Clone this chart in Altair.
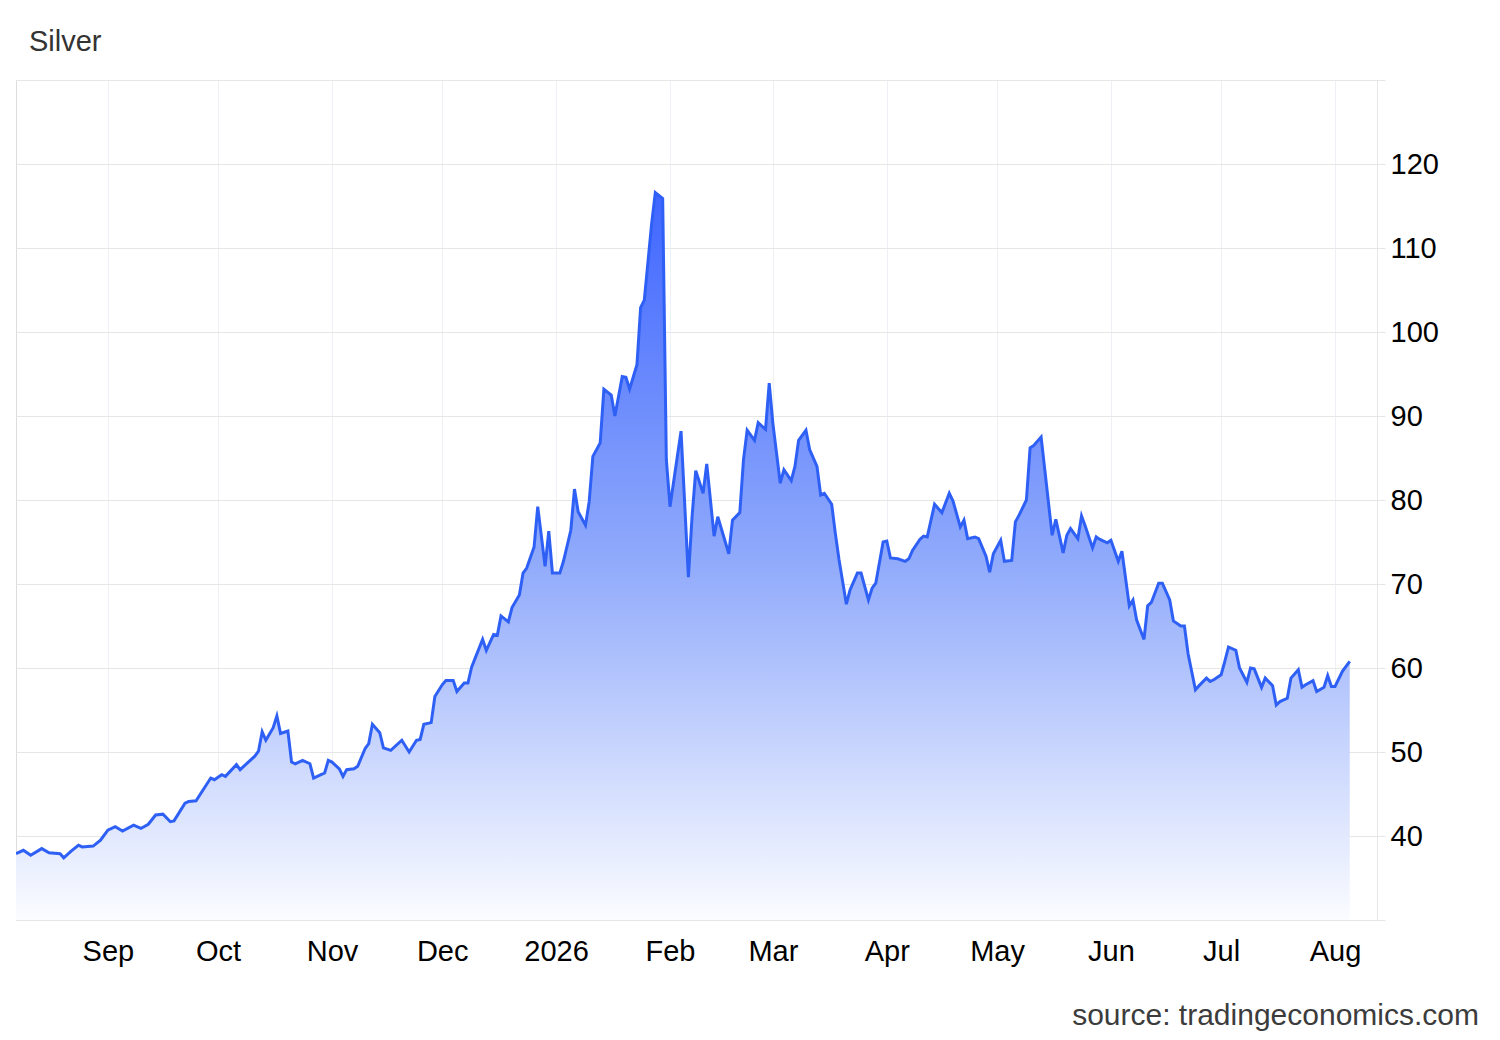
import altair as alt
import pandas as pd

# ---- data ----
dates = [
    "2025-08-07", "2025-08-09", "2025-08-11", "2025-08-14", "2025-08-16", "2025-08-19", "2025-08-20",
    "2025-08-22", "2025-08-24", "2025-08-25", "2025-08-28", "2025-08-30",
    "2025-09-01", "2025-09-03", "2025-09-05", "2025-09-08", "2025-09-10", "2025-09-12", "2025-09-14",
    "2025-09-16", "2025-09-18", "2025-09-19", "2025-09-22", "2025-09-23", "2025-09-25", "2025-09-29",
    "2025-09-30",
    "2025-10-02", "2025-10-03", "2025-10-06", "2025-10-07", "2025-10-09", "2025-10-11", "2025-10-12",
    "2025-10-13", "2025-10-14", "2025-10-16", "2025-10-17", "2025-10-18", "2025-10-20", "2025-10-21",
    "2025-10-22", "2025-10-24", "2025-10-26", "2025-10-27", "2025-10-29", "2025-10-30", "2025-10-31",
    "2025-11-01", "2025-11-03", "2025-11-04", "2025-11-05", "2025-11-07", "2025-11-08", "2025-11-10",
    "2025-11-11", "2025-11-12", "2025-11-14", "2025-11-15", "2025-11-17", "2025-11-20", "2025-11-22",
    "2025-11-24", "2025-11-25", "2025-11-26", "2025-11-28", "2025-11-29",
    "2025-12-01", "2025-12-02", "2025-12-04", "2025-12-05", "2025-12-07", "2025-12-08", "2025-12-09",
    "2025-12-10", "2025-12-12", "2025-12-13", "2025-12-15", "2025-12-16", "2025-12-17", "2025-12-19",
    "2025-12-20", "2025-12-22", "2025-12-23", "2025-12-24", "2025-12-26", "2025-12-27", "2025-12-29",
    "2025-12-30", "2025-12-31",
    "2026-01-02", "2026-01-03", "2026-01-05", "2026-01-06", "2026-01-07", "2026-01-09", "2026-01-10",
    "2026-01-11", "2026-01-13", "2026-01-14", "2026-01-16", "2026-01-17", "2026-01-19", "2026-01-20",
    "2026-01-21", "2026-01-23", "2026-01-24", "2026-01-25", "2026-01-27", "2026-01-28", "2026-01-30",
    "2026-01-31",
    "2026-02-01", "2026-02-03", "2026-02-04", "2026-02-06", "2026-02-07", "2026-02-08", "2026-02-10",
    "2026-02-11", "2026-02-13", "2026-02-14", "2026-02-17", "2026-02-18", "2026-02-20", "2026-02-21",
    "2026-02-22", "2026-02-24", "2026-02-25", "2026-02-27", "2026-02-28",
    "2026-03-01", "2026-03-03", "2026-03-04", "2026-03-06", "2026-03-07", "2026-03-08", "2026-03-10",
    "2026-03-11", "2026-03-13", "2026-03-14", "2026-03-15", "2026-03-17", "2026-03-18", "2026-03-19",
    "2026-03-21", "2026-03-22", "2026-03-24", "2026-03-25", "2026-03-27", "2026-03-28", "2026-03-29",
    "2026-03-31",
    "2026-04-01", "2026-04-02", "2026-04-04", "2026-04-06", "2026-04-07", "2026-04-08", "2026-04-10",
    "2026-04-11", "2026-04-12", "2026-04-14", "2026-04-15", "2026-04-16", "2026-04-18", "2026-04-19",
    "2026-04-21", "2026-04-22", "2026-04-23", "2026-04-25", "2026-04-26", "2026-04-28", "2026-04-29",
    "2026-04-30",
    "2026-05-02", "2026-05-03", "2026-05-05", "2026-05-06", "2026-05-07", "2026-05-09", "2026-05-10",
    "2026-05-11", "2026-05-13", "2026-05-14", "2026-05-16", "2026-05-17", "2026-05-19", "2026-05-20",
    "2026-05-21", "2026-05-23", "2026-05-24", "2026-05-25", "2026-05-27", "2026-05-28", "2026-05-29",
    "2026-05-31",
    "2026-06-01", "2026-06-03", "2026-06-04", "2026-06-06", "2026-06-07", "2026-06-08", "2026-06-10",
    "2026-06-11", "2026-06-12", "2026-06-14", "2026-06-15", "2026-06-17", "2026-06-18", "2026-06-20",
    "2026-06-21", "2026-06-22", "2026-06-24", "2026-06-25", "2026-06-27", "2026-06-28", "2026-06-29",
    "2026-07-01", "2026-07-02", "2026-07-03", "2026-07-05", "2026-07-06", "2026-07-08", "2026-07-09",
    "2026-07-10", "2026-07-12", "2026-07-13", "2026-07-15", "2026-07-16", "2026-07-17", "2026-07-19",
    "2026-07-20", "2026-07-22", "2026-07-23", "2026-07-24", "2026-07-26", "2026-07-27", "2026-07-29",
    "2026-07-30", "2026-07-31",
    "2026-08-01", "2026-08-03", "2026-08-05",
]

prices = [
    37.9, 38.3, 37.7, 38.5, 38.0, 37.9, 37.4,
    38.2, 38.9, 38.7, 38.8, 39.5,
    40.7, 41.1, 40.6, 41.3, 40.9, 41.4, 42.5,
    42.6, 41.7, 41.8, 43.9, 44.1, 44.2, 46.9,
    46.7,
    47.3, 47.1, 48.5, 47.9, 48.7, 49.5, 50.1,
    52.4, 51.4, 52.9, 54.3, 52.2, 52.5, 48.8,
    48.6, 49.0, 48.6, 46.9, 47.3, 47.5, 49.0,
    48.8, 48.0, 47.1, 47.9, 48.0, 48.3, 50.4,
    51.0, 53.3, 52.3, 50.5, 50.2, 51.4, 50.0,
    51.4, 51.5, 53.3, 53.5, 56.6,
    58.0, 58.5, 58.5, 57.2, 58.2, 58.2, 60.1,
    61.2, 63.4, 62.1, 64.0, 63.9, 66.2, 65.5,
    67.2, 68.7, 71.3, 71.9, 74.4, 79.2, 72.1,
    76.3, 71.3,
    71.3, 72.7, 76.4, 81.3, 78.6, 77.0, 79.8,
    85.2, 86.8, 93.2, 92.5, 90.0, 94.7, 94.6,
    93.2, 96.1, 102.9, 103.8, 112.9, 116.6, 115.9,
    84.8,
    79.2, 85.2, 88.2, 70.8, 78.0, 83.5, 80.8,
    84.3, 75.7, 78.0, 73.6, 77.6, 78.5, 84.8,
    88.3, 87.1, 89.2, 88.4, 93.9,
    89.1, 82.0, 83.6, 82.3, 84.0, 87.1, 88.3,
    86.0, 84.0, 80.6, 80.8, 79.5, 76.0, 72.9,
    67.6, 69.3, 71.3, 71.3, 68.1, 69.5, 70.1,
    75.0,
    75.1, 73.1, 73.0, 72.7, 73.0, 74.0, 75.3,
    75.7, 75.6, 79.5, 79.0, 78.5, 80.8, 79.9,
    76.8, 77.6, 75.4, 75.6, 75.4, 73.3, 71.4,
    73.6,
    75.2, 72.7, 72.8, 77.4, 78.2, 80.0, 86.2,
    86.5, 87.5, 83.6, 75.8, 77.7, 73.7, 75.8,
    76.6, 75.4, 78.1, 76.9, 74.3, 75.6, 75.3,
    74.9,
    75.2, 72.7, 73.9, 67.4, 68.1, 65.7, 63.4,
    67.4, 67.8, 70.1, 70.1, 68.1, 65.6, 65.0,
    65.0, 61.7, 57.4, 57.9, 58.8, 58.4, 58.6,
    59.2, 60.8, 62.5, 62.1, 60.0, 58.3, 60.0,
    59.9, 57.7, 58.8, 57.9, 55.6, 56.0, 56.4,
    58.8, 59.8, 57.7, 58.0, 58.5, 57.2, 57.7,
    59.1, 57.8,
    57.8, 59.6, 60.8,
]

# x-axis ticks (first day of each month) and y-axis ticks
month_ticks = [(2025, 9), (2025, 10), (2025, 11), (2025, 12), (2026, 1), (2026, 2),
               (2026, 3), (2026, 4), (2026, 5), (2026, 6), (2026, 7), (2026, 8)]
y_ticks = [30, 40, 50, 60, 70, 80, 90, 100, 110, 120, 130]
y_min, y_max = 30, 130

title_text = ["Silver"]
source_text = ["source: tradingeconomics.com"]

df = pd.DataFrame({"date": pd.to_datetime(dates), "price": prices})

FONT = "Liberation Sans"

x_scale = alt.Scale(domain=[alt.DateTime(year=2025, month=8, date=7),
                            alt.DateTime(year=2026, month=8, date=12, hours=10)])
y_scale = alt.Scale(domain=[y_min, y_max], nice=False, zero=False)

x_axis = alt.Axis(
    values=[alt.DateTime(year=y, month=m, date=1) for (y, m) in month_ticks],
    labelExpr="month(datum.value) == 0 ? timeFormat(datum.value, '%Y') : timeFormat(datum.value, '%b')",
    grid=True, gridColor="#edf0f4", gridWidth=1,
    ticks=False, domain=False,
    labelFont=FONT, labelFontSize=29, labelColor="#000000", labelPadding=17,
    labelAngle=0, labelFlush=False, labelOverlap=False, title=None,
)
y_axis = alt.Axis(
    orient="right", values=y_ticks,
    labelExpr="datum.value == 30 || datum.value == 130 ? '' : datum.label",
    grid=True, gridColor="#e6e6e6", gridWidth=1,
    ticks=True, tickColor="#e6e6e6", tickSize=8,
    domain=True, domainColor="#e6e6e6",
    labelFont=FONT, labelFontSize=29, labelColor="#000000", labelPadding=5,
    labelFlush=False, labelOverlap=False, title=None,
)

gradient = alt.Gradient(
    gradient="linear",
    stops=[
        alt.GradientStop(color="#3f66ff", offset=0),
        alt.GradientStop(color="#8fa9fb", offset=0.5),
        alt.GradientStop(color="#fbfcff", offset=1),
    ],
    x1=0, x2=0, y1=0, y2=1,
)

area = alt.Chart(df).mark_area(color=gradient, clip=True).encode(
    x=alt.X("date:T", scale=x_scale, axis=x_axis),
    y=alt.Y("price:Q", scale=y_scale, axis=y_axis),
    y2=alt.datum(y_min),
)

line = alt.Chart(df).mark_line(color="#2f60f5", strokeWidth=3, clip=True).encode(
    x=alt.X("date:T", scale=x_scale),
    y=alt.Y("price:Q", scale=y_scale),
)

title = alt.Chart(pd.DataFrame({"t": title_text})).mark_text(
    align="left", baseline="alphabetic", font=FONT, fontSize=29, color="#333333"
).encode(x=alt.value(13), y=alt.value(-29), text="t:N")

source = alt.Chart(pd.DataFrame({"t": source_text})).mark_text(
    align="right", baseline="alphabetic", font=FONT, fontSize=30, color="#3c3c3c"
).encode(x=alt.value(1463), y=alt.value(945), text="t:N")

chart = alt.layer(area, line, title, source).properties(
    width=1361,
    height=840,
    padding={"left": 8, "top": 72, "right": 111, "bottom": 115},
    autosize=alt.AutoSizeParams(type="none"),
).configure_view(stroke=None).configure(background="white")

chart.save("out.html", embed_options={"renderer": "svg", "actions": False})
